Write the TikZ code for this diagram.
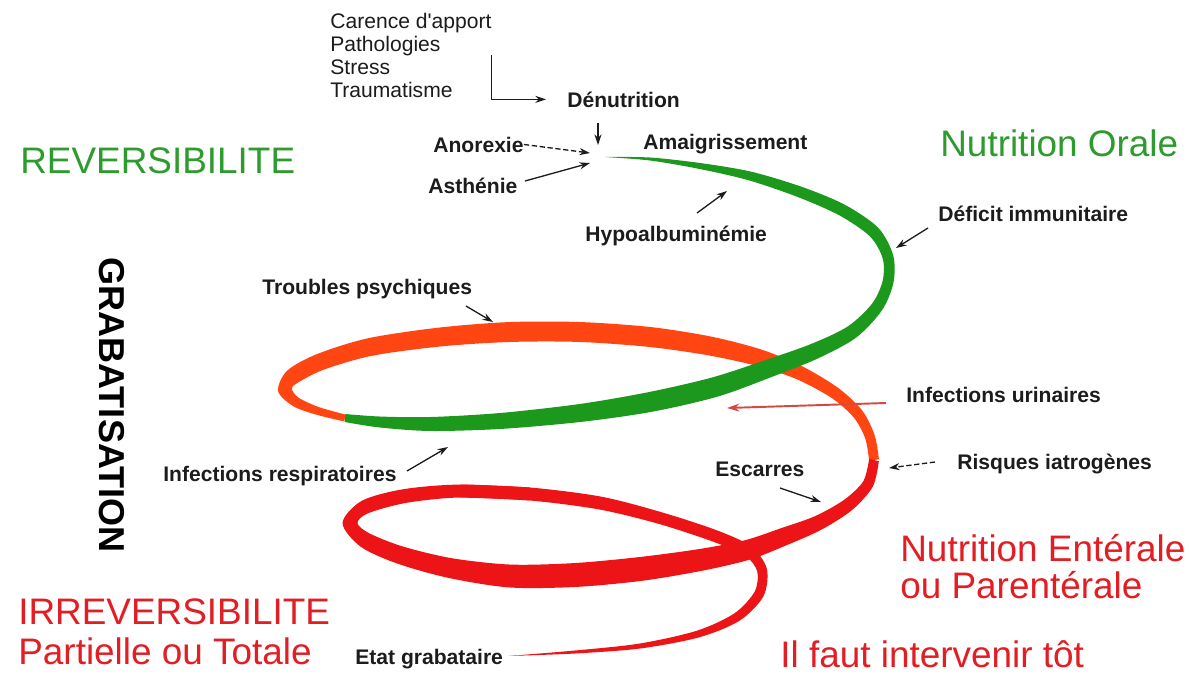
\documentclass[tikz,border=0pt]{standalone}
\usepackage{fontspec}
\setmainfont{Liberation Sans}
\usetikzlibrary{calc,arrows.meta}
\definecolor{ribgreen}{RGB}{28,152,28}
\definecolor{riborange}{RGB}{255,70,18}
\definecolor{ribred}{RGB}{236,20,22}
\definecolor{txtgreen}{RGB}{45,155,45}
\definecolor{txtred}{RGB}{226,30,36}
\definecolor{lbl}{RGB}{28,28,28}
\definecolor{urin}{RGB}{215,72,62}
\newcommand\ribbon[2]{%
  \foreach \px/\py/\pw [count=\k] in {#2} {%
    \coordinate (rc\k) at (\px,\py);
    \expandafter\xdef\csname rbw\k\endcsname{\pw}%
    \xdef\rbn{\k}%
  }%
  \gdef\rbL{}\gdef\rbR{}%
  \foreach \k in {1,...,\rbn} {%
    \pgfmathtruncatemacro\kp{max(\k-1,1)}%
    \pgfmathtruncatemacro\kn{min(\k+1,\rbn)}%
    \pgfmathsetmacro\hw{\csname rbw\k\endcsname*0.28346}%
    \path let \p1=(rc\kp), \p2=(rc\kn), \n1={atan2(\y2-\y1,\x2-\x1)} in
      coordinate (rl\k) at ($(rc\k)+({\n1+90}:{\hw pt})$)
      coordinate (rr\k) at ($(rc\k)+({\n1-90}:{\hw pt})$);
    \xdef\rbL{\rbL(rl\k)}%
    \xdef\rbR{(rr\k)\rbR}%
  }%
  \edef\rbtmp{\noexpand\fill[#1] plot[smooth] coordinates {\rbL} -- plot[smooth] coordinates {\rbR} -- cycle;}%
  \rbtmp
}
\tikzset{
  lab/.style={font=\fontsize{12}{14}\selectfont\bfseries, text=lbl, inner sep=0pt, anchor=base west},
  big/.style={font=\fontsize{21}{21}\selectfont, inner sep=0pt, anchor=base west},
  arr/.style={draw=lbl, line width=0.75pt, -{Stealth[length=6pt,width=4pt]}},
  dasharr/.style={arr, dash pattern=on 3pt off 1.5pt},
}
\begin{document}
\begin{tikzpicture}[x=0.02cm,y=-0.02cm]
\useasboundingbox (0,0) rectangle (1191,674);
% spiral ribbon
\ribbon{riborange}{345/418/7, 318/411/8, 296/402/10, 285/390/14, 292/377/16, 320/362/17, 370/347/18, 440/337/19, 510/332/20, 580/332/20, 650/337/20, 710/346/19, 760/358/17, 800/373/14, 835/393/12, 858/414/11, 870/437/10, 874/460/10}
\ribbon{ribred}{874/460/10, 868/484/11, 848/505/13, 818/523/15, 783/537/18, 747/550/20, 700/560/22, 640/569/24, 575/575/24, 510/576/23, 450/568/20, 400/555/18, 365/540/16, 350/523/15, 365/507/14, 405/496/14, 460/491/13, 530/494/13}
\ribbon{ribred}{460/491/13, 530/494/13, 600/503/13, 660/518/12, 715/536/12, 748/551/11, 762/570/10, 759/594/10, 737/617/9, 698/634/7, 640/646/5, 575/652/3, 508/656/0}
\ribbon{ribgreen}{605/157/0, 650/159/3, 700/166/6, 750/176/9, 800/192/11, 842/210/12, 874/232/12, 888/257/11, 888/282/11, 877/307/12, 852/332/14, 815/351/16, 770/368/18, 715/387/20, 650/402/20, 580/413/18, 500/421/16, 430/424/14, 380/422/11, 345/418/8}
% texts
\node[font=\fontsize{12}{13}\selectfont, text=lbl, anchor=north west, align=left, inner sep=0pt] (car) at (330,13) {Carence d\textquotesingle apport\\Pathologies\\Stress\\Traumatisme};
\node[lab] (denut) at (567,107) {Dénutrition};
\node[lab] (anorex) at (433,152) {Anorexie};
\node[lab] (asth) at (428,193) {Asthénie};
\node[lab] (amaig) at (643,149) {Amaigrissement};
\node[lab] (hypo) at (585,241) {Hypoalbuminémie};
\node[lab] (defic) at (938,221) {Déficit immunitaire};
\node[lab] (troub) at (262,294) {Troubles psychiques};
\node[lab] (urin) at (906,402) {Infections urinaires};
\node[lab] (resp) at (163,481) {Infections respiratoires};
\node[lab] (escar) at (715,476) {Escarres};
\node[lab] (risq) at (957,469) {Risques iatrogènes};
\node[lab] (etat) at (355,664) {Etat grabataire};
\node[big, text=txtgreen] (rev) at (20,173) {REVERSIBILITE};
\node[big, text=txtgreen] (nor) at (940,156) {Nutrition Orale};
\node[big, text=txtred, anchor=north west, align=left] (nep) at (900,534) {Nutrition Entérale\\ou Parentérale};
\node[big, font=\fontsize{21}{22.7}\selectfont, text=txtred, anchor=north west, align=left] (irr) at (18,598) {IRREVERSIBILITE\\Partielle ou Totale};
\node[big, text=txtred] (ift) at (780,667) {Il faut intervenir tôt};
\node[font=\fontsize{20.5}{24}\selectfont\bfseries, rotate=-90, inner sep=0pt] (grab) at (112,405) {GRABATISATION};
% connector end points
\coordinate (denS) at (598,123);
\coordinate (denE) at (598,145);
\coordinate (anoE) at (590,153);
\coordinate (astS) at (525,181);
\coordinate (astE) at (590,163);
\coordinate (hypS) at (697,213);
\coordinate (hypE) at (727,191);
\coordinate (defS) at (928,228);
\coordinate (defE) at (896,248);
\coordinate (troS) at (466,306);
\coordinate (troE) at (493,322);
\coordinate (uriS) at (886,403);
\coordinate (uriE) at (727,408);
\coordinate (resS) at (407,471);
\coordinate (resE) at (448,447);
\coordinate (escS) at (780,488);
\coordinate (escE) at (821,502);
\coordinate (risS) at (935,462);
\coordinate (risE) at (889,468);
% connectors
\draw[arr, shorten >=12pt] (car.east) |- (denut.west);
\draw[arr] (denS) -- (denE);
\draw[dasharr] (anorex.east) -- (anoE);
\draw[arr] (astS) -- (astE);
\draw[arr] (hypS) -- (hypE);
\draw[arr] (defS) -- (defE);
\draw[arr] (troS) -- (troE);
\draw[draw=urin, line width=1.1pt, -{Stealth[length=7pt,width=4.5pt]}] (uriS) -- (uriE);
\draw[arr] (resS) -- (resE);
\draw[arr] (escS) -- (escE);
\draw[dasharr] (risS) -- (risE);
\end{tikzpicture}
\end{document}
